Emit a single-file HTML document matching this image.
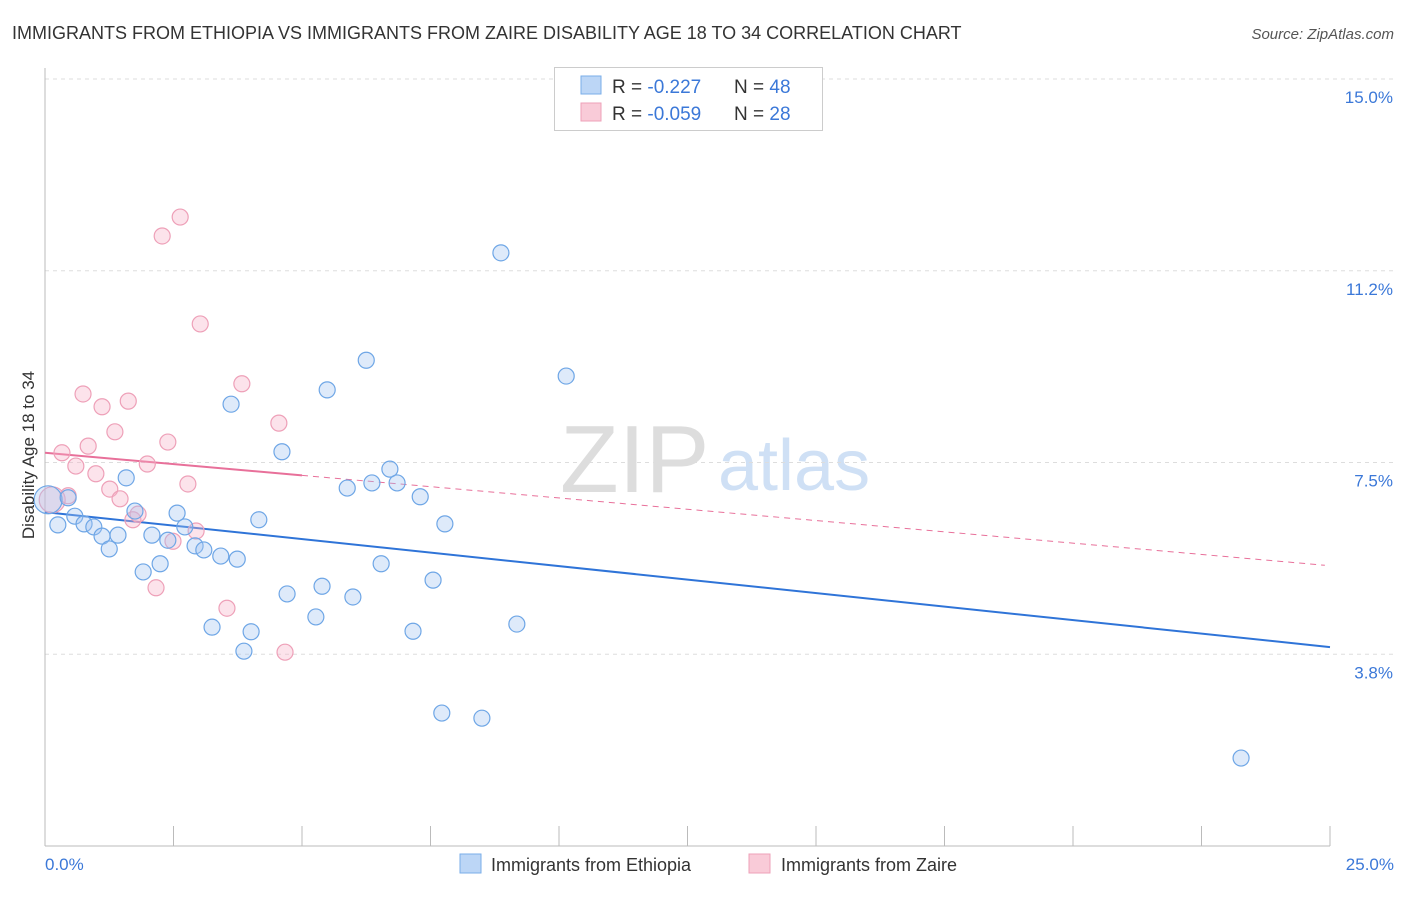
<!DOCTYPE html>
<html><head><meta charset="utf-8"><style>
body{margin:0;background:#fff;font-family:"Liberation Sans",sans-serif;}
svg text{font-family:"Liberation Sans",sans-serif;}
</style></head><body>
<svg id="chart" width="1406" height="892">
<text x="12" y="39" font-size="18" fill="#333">IMMIGRANTS FROM ETHIOPIA VS IMMIGRANTS FROM ZAIRE DISABILITY AGE 18 TO 34 CORRELATION CHART</text>
<text x="1394" y="39" font-size="15" fill="#555" text-anchor="end" font-style="italic">Source: ZipAtlas.com</text>
<text x="560" y="492" font-size="96" fill="#ddd" font-family="Liberation Serif">ZIP</text>
<text x="718" y="490" font-size="72" fill="#cfe0f5">atlas</text>
<g id="grid"></g><g id="axes"></g><g id="trends"></g><g id="pts"></g>
<text transform="translate(34,455) rotate(-90)" font-size="17" fill="#333" text-anchor="middle">Disability Age 18 to 34</text>
<text x="45" y="870" font-size="17" fill="#3b78d8">0.0%</text>
<text x="1394" y="870" font-size="17" fill="#3b78d8" text-anchor="end">25.0%</text>
<g>
<rect x="554.5" y="67.5" width="268" height="63" fill="#fff" stroke="#ccc"/>
<rect x="581" y="76" width="20" height="18" fill="#bcd6f6" stroke="#7aaee8"/>
<rect x="581" y="103" width="20" height="18" fill="#f9cbd8" stroke="#eea0b8"/>
<text x="612" y="93" font-size="19" fill="#333">R = <tspan fill="#3b78d8">-0.227</tspan><tspan x="734">N = </tspan><tspan fill="#3b78d8">48</tspan></text>
<text x="612" y="120" font-size="19" fill="#333">R = <tspan fill="#3b78d8">-0.059</tspan><tspan x="734">N = </tspan><tspan fill="#3b78d8">28</tspan></text>
</g>
<g>
<rect x="460" y="854" width="21" height="19" fill="#bcd6f6" stroke="#7aaee8"/>
<text x="491" y="871" font-size="18" fill="#333">Immigrants from Ethiopia</text>
<rect x="749" y="854" width="21" height="19" fill="#f9cbd8" stroke="#eea0b8"/>
<text x="781" y="871" font-size="18" fill="#333">Immigrants from Zaire</text>
</g>
</svg>
<script>
const yTicks=[3.75,7.5,11.25,15];
const yTickLabels=["3.8%","7.5%","11.2%","15.0%"];
const xTicks=[0,2.5,5,7.5,10,12.5,15,17.5,20,22.5,25];
const ethX=[0.06,0.25,0.45,0.58,0.76,0.95,1.11,1.25,1.42,1.58,1.75,1.91,2.08,2.24,2.39,2.57,2.72,2.92,3.09,3.42,3.74,3.62,4.01,3.87,3.25,4.16,4.61,4.71,5.27,5.39,5.49,5.88,5.99,6.25,6.36,6.54,6.71,6.85,7.16,7.30,7.55,7.72,7.78,8.50,8.87,9.18,10.14,23.27];
const ethY=[6.77,6.28,6.81,6.45,6.30,6.24,6.06,5.81,6.08,7.20,6.55,5.36,6.08,5.52,5.98,6.51,6.24,5.87,5.79,5.67,5.61,8.64,4.19,3.81,4.28,6.38,7.71,4.93,4.48,5.08,8.92,7.00,4.87,9.50,7.10,5.52,7.37,7.10,4.20,6.83,5.20,2.60,6.30,2.50,11.60,4.34,9.19,1.72];
const zaiX=[0.14,0.33,0.45,0.60,0.74,0.84,0.99,1.11,1.26,1.36,1.46,1.62,1.71,1.81,1.99,2.16,2.28,2.39,2.49,2.63,2.78,2.94,3.02,3.54,3.83,4.55,4.67];
const zaiY=[6.77,7.69,6.85,7.43,8.84,7.82,7.28,8.59,6.98,8.10,6.79,8.70,6.38,6.49,7.47,5.05,11.93,7.90,5.96,12.30,7.08,6.16,10.21,4.65,9.04,8.27,3.79];
const ethTrend=[6.53,3.89];
const zaiTrend=[7.69,5.49];
const X=v=>45+v/25*1285, Y=v=>846-v/15*767;
const NS="http://www.w3.org/2000/svg";
function mk(t,a,p){const e=document.createElementNS(NS,t);for(const k in a)e.setAttribute(k,a[k]);document.getElementById(p).appendChild(e);return e;}
yTicks.forEach((t,i)=>{
 const l=mk('line',{x1:45,x2:1394,y1:Y(t),y2:Y(t),stroke:'#ddd','stroke-dasharray':'4,4'},'grid');
 
 
 const tx=mk('text',{x:1393,y:Y(t)+24,'font-size':17,fill:'#3b78d8','text-anchor':'end'},'grid');
 tx.textContent=yTickLabels[i];
 
 
});
const ax=mk('line',{x1:45,x2:1330,y1:846,y2:846,stroke:'#bbb'},'axes');


const ay=mk('line',{x1:45,x2:45,y1:68,y2:846,stroke:'#bbb'},'axes');


xTicks.forEach(t=>{
 const l=mk('line',{x1:X(t),x2:X(t),y1:826,y2:846,stroke:'#bbb'},'axes');
 
 
});
function dot(x,y,r,fill,stroke,name){
 const c=mk('circle',{cx:X(x),cy:Y(y),r:r,fill:fill,stroke:stroke,'stroke-width':1.2},'pts');
 
 
}
zaiX.forEach((x,i)=>dot(x,zaiY[i],i==0?13:8,'rgba(245,175,198,0.35)','#eea0b8','zaire-point'));
ethX.forEach((x,i)=>dot(x,ethY[i],i==0?14:8,'rgba(160,196,240,0.35)','#6ea6e6','ethiopia-point'));
const bt=mk('line',{x1:X(0),y1:Y(ethTrend[0]),x2:X(25),y2:Y(ethTrend[1]),stroke:'#2f74d8','stroke-width':2},'trends');


const zs=(zaiTrend[1]-zaiTrend[0])/24.9;
const pt1=mk('line',{x1:X(0),y1:Y(zaiTrend[0]),x2:X(5),y2:Y(zaiTrend[0]+zs*5),stroke:'#e8709a','stroke-width':2},'trends');


const pt2=mk('line',{x1:X(5),y1:Y(zaiTrend[0]+zs*5),x2:X(24.9),y2:Y(zaiTrend[1]),stroke:'#e8709a','stroke-width':1,'stroke-dasharray':'6,5'},'trends');


</script>
</body></html>
